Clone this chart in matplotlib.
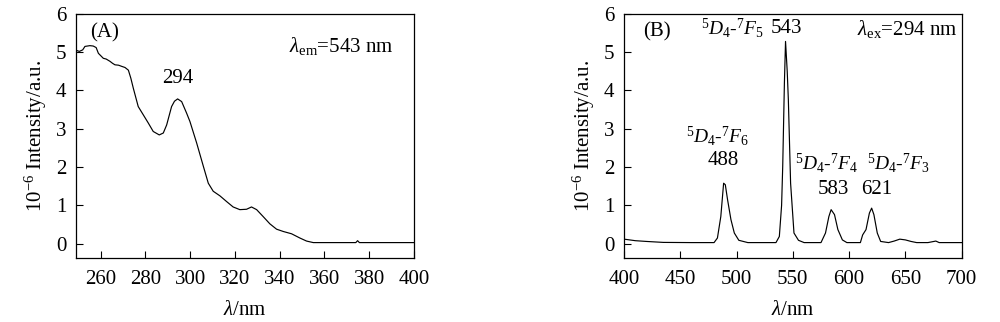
import numpy as np
from matplotlib import pyplot as plt

plt.rcParams['font.family'] = ['Liberation Serif', 'DejaVu Serif']
plt.rcParams['mathtext.fontset'] = 'custom'
plt.rcParams['mathtext.rm'] = 'Liberation Serif'
plt.rcParams['mathtext.it'] = 'Liberation Serif:italic'
plt.rcParams['font.size'] = 15

# (A) excitation spectrum, lambda_em = 543 nm
exc_nm = [249, 250.5, 252, 253, 255.2, 256.7, 258, 259, 261.2, 262.5, 264.2, 265.3, 266.4,
          268, 269.4, 270.9, 272.4, 273.5, 274.6, 276.8, 279, 281.3, 283.5, 286.2, 288,
          289.5, 291.7, 293, 294.4, 296.2, 298.4, 299.9, 302.9, 305.9, 308.1, 310.3,
          313.3, 316.3, 319.2, 322.2, 325.2, 327.4, 329.7, 332.6, 335.6, 338.6, 341.6,
          345.3, 349, 352, 355, 364, 374, 374.8, 375.6, 385, 400]
exc_int = [5.05, 5.02, 5.06, 5.15, 5.17, 5.16, 5.12, 4.97, 4.84, 4.82, 4.76, 4.71, 4.67,
           4.66, 4.63, 4.60, 4.53, 4.32, 4.06, 3.58, 3.37, 3.15, 2.93, 2.84, 2.89,
           3.10, 3.58, 3.72, 3.78, 3.71, 3.41, 3.19, 2.63, 2.02, 1.58, 1.37,
           1.25, 1.10, 0.96, 0.89, 0.90, 0.96, 0.89, 0.71, 0.52, 0.38, 0.32,
           0.26, 0.15, 0.07, 0.03, 0.03, 0.03, 0.08, 0.03, 0.03, 0.03]

# (B) emission spectrum, lambda_ex = 294 nm
emi_nm = [400, 410, 420, 435, 460, 480, 483, 486, 488.5, 490, 492, 495, 498, 502, 510,
          535, 538, 540, 541, 542.5, 543.5, 545, 546, 548, 551, 555, 560,
          575, 579, 582, 584, 587, 590, 594, 598, 610, 612, 615, 618, 620, 622, 625,
          628, 635, 640, 645, 650, 655, 660, 670, 677, 680, 690, 700]
emi_int = [0.12, 0.08, 0.06, 0.035, 0.03, 0.03, 0.15, 0.71, 1.58, 1.54, 1.15, 0.63, 0.28, 0.09, 0.03,
           0.03, 0.19, 1.0, 2.02, 4.2, 5.28, 4.5, 3.76, 1.58, 0.28, 0.09, 0.03,
           0.03, 0.28, 0.71, 0.89, 0.76, 0.37, 0.10, 0.03, 0.03, 0.23, 0.37, 0.80, 0.93, 0.76, 0.28,
           0.06, 0.03, 0.07, 0.12, 0.10, 0.06, 0.03, 0.03, 0.07, 0.03, 0.03, 0.03]

ylab = r'10$^{-6}$ Intensity/a.u.'
xlab = r'$\lambda$/nm'

fig = plt.figure(figsize=(10, 3.22), dpi=100)
axA = fig.add_axes([0.076, 0.199, 0.338, 0.758])
axB = fig.add_axes([0.624, 0.199, 0.3377, 0.758])

for ax in (axA, axB):
    ax.tick_params(direction='in', length=5, width=0.8, top=False, right=False)
    ax.tick_params(axis='x', pad=9)
    ax.tick_params(axis='y', pad=7)
    ax.set_ylim(-0.37, 6)
    ax.set_yticks(range(0, 7))
    ax.set_ylabel(ylab, labelpad=5)
    ax.set_xlabel(xlab, labelpad=8)
    for s in ax.spines.values():
        s.set_linewidth(0.9)

axA.plot(exc_nm, exc_int, color='black', lw=0.85)
axA.set_xlim(249, 400)
axA.set_xticks(range(260, 401, 20))
axA.text(255.5, 5.5, '(A)', va='center', ha='left')
axA.text(294.4, 4.32, '294', va='center', ha='center')
axA.text(344, 5.15, r'$\lambda_{\mathrm{em}}$=543 nm', va='center', ha='left')

axB.plot(emi_nm, emi_int, color='black', lw=0.85)
axB.set_xlim(400, 700)
axB.set_xticks(range(400, 701, 50))
axB.text(416.6, 5.54, '(B)', va='center', ha='left')
axB.text(496, 5.63, r'$^{5}D_{4}$-$^{7}F_{5}$', va='center', ha='center', fontsize=14)
axB.text(544.5, 5.63, '543', va='center', ha='center')
axB.text(607, 5.6, r'$\lambda_{\mathrm{ex}}$=294 nm', va='center', ha='left')
axB.text(483, 2.8, r'$^{5}D_{4}$-$^{7}F_{6}$', va='center', ha='center', fontsize=14)
axB.text(488.5, 2.17, '488', va='center', ha='center')
axB.text(580, 2.1, r'$^{5}D_{4}$-$^{7}F_{4}$', va='center', ha='center', fontsize=14)
axB.text(586, 1.41, '583', va='center', ha='center')
axB.text(644, 2.1, r'$^{5}D_{4}$-$^{7}F_{3}$', va='center', ha='center', fontsize=14)
axB.text(624.5, 1.41, '621', va='center', ha='center')

fig.savefig('out.png', dpi=100)
